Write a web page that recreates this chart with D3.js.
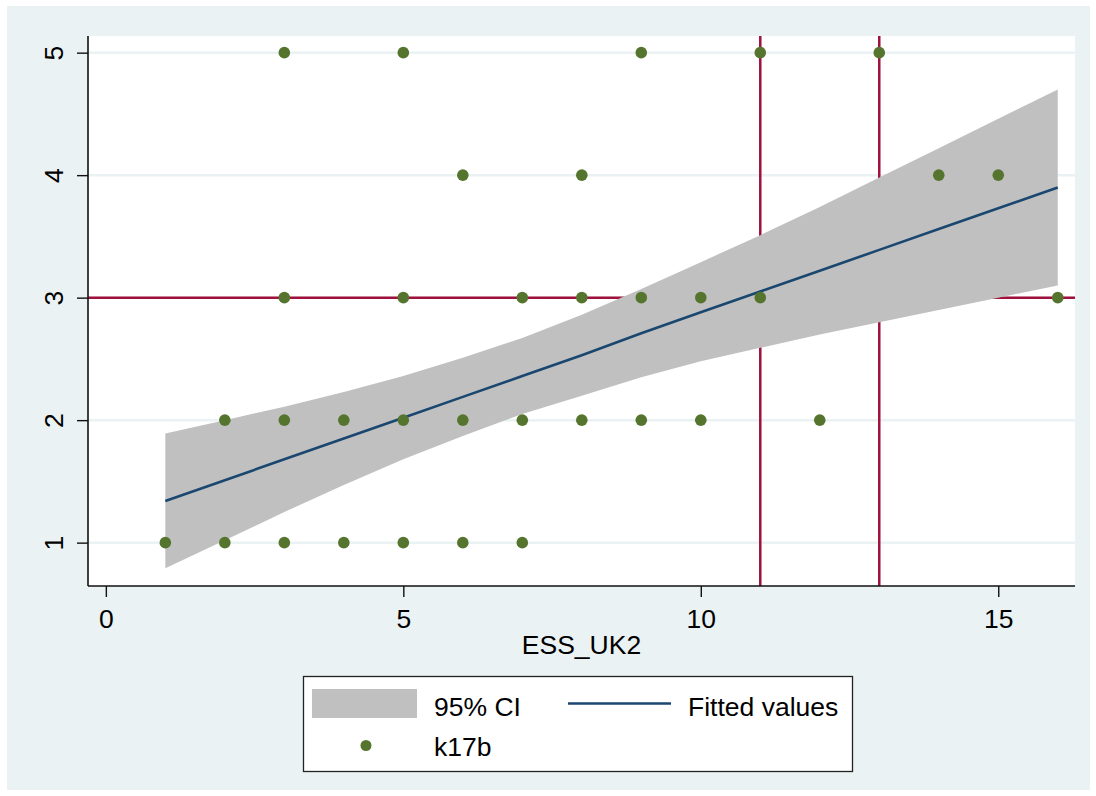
<!DOCTYPE html>
<html>
<head>
<meta charset="utf-8">
<script src="https://cdn.jsdelivr.net/npm/d3@7"></script>
<style>
  html, body { margin: 0; padding: 0; background: #ffffff; }
  svg { display: block; }
  text { font-family: "Liberation Sans", Arial, Helvetica, sans-serif; fill: #000; }
</style>
</head>
<body>
<svg id="chart" width="1096" height="796"></svg>
<script>
// Observations: k17b against ESS_UK2
const pointX = [3, 5, 9, 11, 13,
                6, 8, 14, 15,
                3, 5, 7, 8, 9, 10, 11, 16,
                2, 3, 4, 5, 6, 7, 8, 9, 10, 12,
                1, 2, 3, 4, 5, 6, 7];
const pointY = [5, 5, 5, 5, 5,
                4, 4, 4, 4,
                3, 3, 3, 3, 3, 3, 3, 3,
                2, 2, 2, 2, 2, 2, 2, 2, 2, 2,
                1, 1, 1, 1, 1, 1, 1];

// Linear fit with 95% confidence band
const fitX     = [1, 2, 3, 4, 5, 6, 7, 8, 9, 10, 11, 12, 13, 14, 15, 16];
const fitY     = [1.34, 1.51, 1.68, 1.85, 2.02, 2.19, 2.36, 2.53, 2.71, 2.88, 3.05, 3.22, 3.39, 3.56, 3.73, 3.90];
const ciUpper  = [1.89, 2.00, 2.11, 2.23, 2.36, 2.51, 2.67, 2.86, 3.07, 3.29, 3.51, 3.74, 3.98, 4.22, 4.46, 4.70];
const ciLower  = [0.79, 1.02, 1.25, 1.47, 1.68, 1.87, 2.05, 2.20, 2.35, 2.48, 2.59, 2.70, 2.80, 2.90, 3.00, 3.10];

// Reference lines
const xRefLines = [11, 13];
const yRefLines = [3];

// Axis ticks and labels
const xTicks = [0, 5, 10, 15];
const yTicks = [1, 2, 3, 4, 5];
const xTitle = "ESS_UK2";
const legendLabels = ["95% CI", "Fitted values", "k17b"];

const colors = {
  graphBg: "#eaf2f3",
  grid: "#eaf2f3",
  band: "#c0c0c0",
  fit: "#1a476f",
  points: "#55752f",
  ref: "#a0113d"
};

const fontSize = "26.5px";

const svg = d3.select("#chart");
const plot = { left: 88, right: 1075, top: 36, bottom: 586 };

const x = d3.scaleLinear().domain([-0.3, 16.29]).range([plot.left, plot.right]);
const y = d3.scaleLinear().domain([0.646, 5.136]).range([plot.bottom, plot.top]);

// graph region and plot region backgrounds
svg.append("rect").attr("x", 7).attr("y", 6).attr("width", 1083).attr("height", 784)
  .attr("fill", colors.graphBg);
svg.append("rect").attr("x", plot.left).attr("y", plot.top)
  .attr("width", plot.right - plot.left).attr("height", plot.bottom - plot.top)
  .attr("fill", "#ffffff");

// horizontal grid
svg.append("g").selectAll("line").data(yTicks).join("line")
  .attr("x1", plot.left).attr("x2", plot.right)
  .attr("y1", d => y(d)).attr("y2", d => y(d))
  .attr("stroke", colors.grid).attr("stroke-width", 2.5);

// reference lines
svg.append("g").selectAll("line").data(yRefLines).join("line")
  .attr("x1", plot.left).attr("x2", plot.right)
  .attr("y1", d => y(d)).attr("y2", d => y(d))
  .attr("stroke", colors.ref).attr("stroke-width", 2.5);
svg.append("g").selectAll("line").data(xRefLines).join("line")
  .attr("x1", d => x(d)).attr("x2", d => x(d))
  .attr("y1", plot.top).attr("y2", plot.bottom)
  .attr("stroke", colors.ref).attr("stroke-width", 2.5);

// confidence band
const bandData = fitX.map((v, i) => ({ x: v, lo: ciLower[i], hi: ciUpper[i] }));
svg.append("path").datum(bandData)
  .attr("fill", colors.band)
  .attr("d", d3.area().x(d => x(d.x)).y0(d => y(d.lo)).y1(d => y(d.hi)));

// fitted line
const fitData = fitX.map((v, i) => ({ x: v, y: fitY[i] }));
svg.append("path").datum(fitData)
  .attr("fill", "none").attr("stroke", colors.fit).attr("stroke-width", 2.6)
  .attr("d", d3.line().x(d => x(d.x)).y(d => y(d.y)));

// scatter points
svg.append("g").selectAll("circle").data(pointX.map((v, i) => ({ x: v, y: pointY[i] }))).join("circle")
  .attr("cx", d => x(d.x)).attr("cy", d => y(d.y)).attr("r", 5.8)
  .attr("fill", colors.points);

// y axis
const yAxis = svg.append("g").attr("transform", `translate(${plot.left},0)`)
  .call(d3.axisLeft(y).tickValues(yTicks).tickSize(11).tickFormat(d3.format("d")));
yAxis.select(".domain").attr("d", `M0,${plot.top}V${plot.bottom}`).attr("stroke", "#111").attr("stroke-width", 1.6);
yAxis.selectAll(".tick line").attr("stroke", "#111").attr("stroke-width", 1.4);
yAxis.selectAll(".tick text")
  .attr("x", null).attr("dy", null)
  .attr("transform", "translate(-25,0) rotate(-90)")
  .attr("text-anchor", "middle")
  .style("font-size", fontSize)
  .style("font-family", "'Liberation Sans', Arial, sans-serif")
  .attr("fill", "#000");

// x axis
const xAxis = svg.append("g").attr("transform", `translate(0,${plot.bottom})`)
  .call(d3.axisBottom(x).tickValues(xTicks).tickSize(11).tickFormat(d3.format("d")));
xAxis.select(".domain").attr("d", `M${plot.left},0H${plot.right}`).attr("stroke", "#111").attr("stroke-width", 1.6);
xAxis.selectAll(".tick line").attr("stroke", "#111").attr("stroke-width", 1.4);
xAxis.selectAll(".tick text")
  .attr("y", 42).attr("dy", null)
  .style("font-size", fontSize)
  .style("font-family", "'Liberation Sans', Arial, sans-serif")
  .attr("fill", "#000");

svg.append("text")
  .attr("x", (plot.left + plot.right) / 2).attr("y", 654)
  .attr("text-anchor", "middle").style("font-size", fontSize)
  .text(xTitle);

// legend
const lg = svg.append("g");
lg.append("rect").attr("x", 303.5).attr("y", 676.5).attr("width", 549).attr("height", 95)
  .attr("fill", "#ffffff").attr("stroke", "#222").attr("stroke-width", 1.3);
lg.append("rect").attr("x", 312).attr("y", 689).attr("width", 105).attr("height", 29)
  .attr("fill", colors.band);
lg.append("text").attr("x", 434).attr("y", 716).style("font-size", fontSize).text(legendLabels[0]);
lg.append("line").attr("x1", 568).attr("x2", 671).attr("y1", 703.5).attr("y2", 703.5)
  .attr("stroke", colors.fit).attr("stroke-width", 2.6);
lg.append("text").attr("x", 688).attr("y", 716).style("font-size", fontSize).text(legendLabels[1]);
lg.append("circle").attr("cx", 366).attr("cy", 745.5).attr("r", 5.5).attr("fill", colors.points);
lg.append("text").attr("x", 434).attr("y", 756).style("font-size", fontSize).text(legendLabels[2]);
</script>
</body>
</html>
